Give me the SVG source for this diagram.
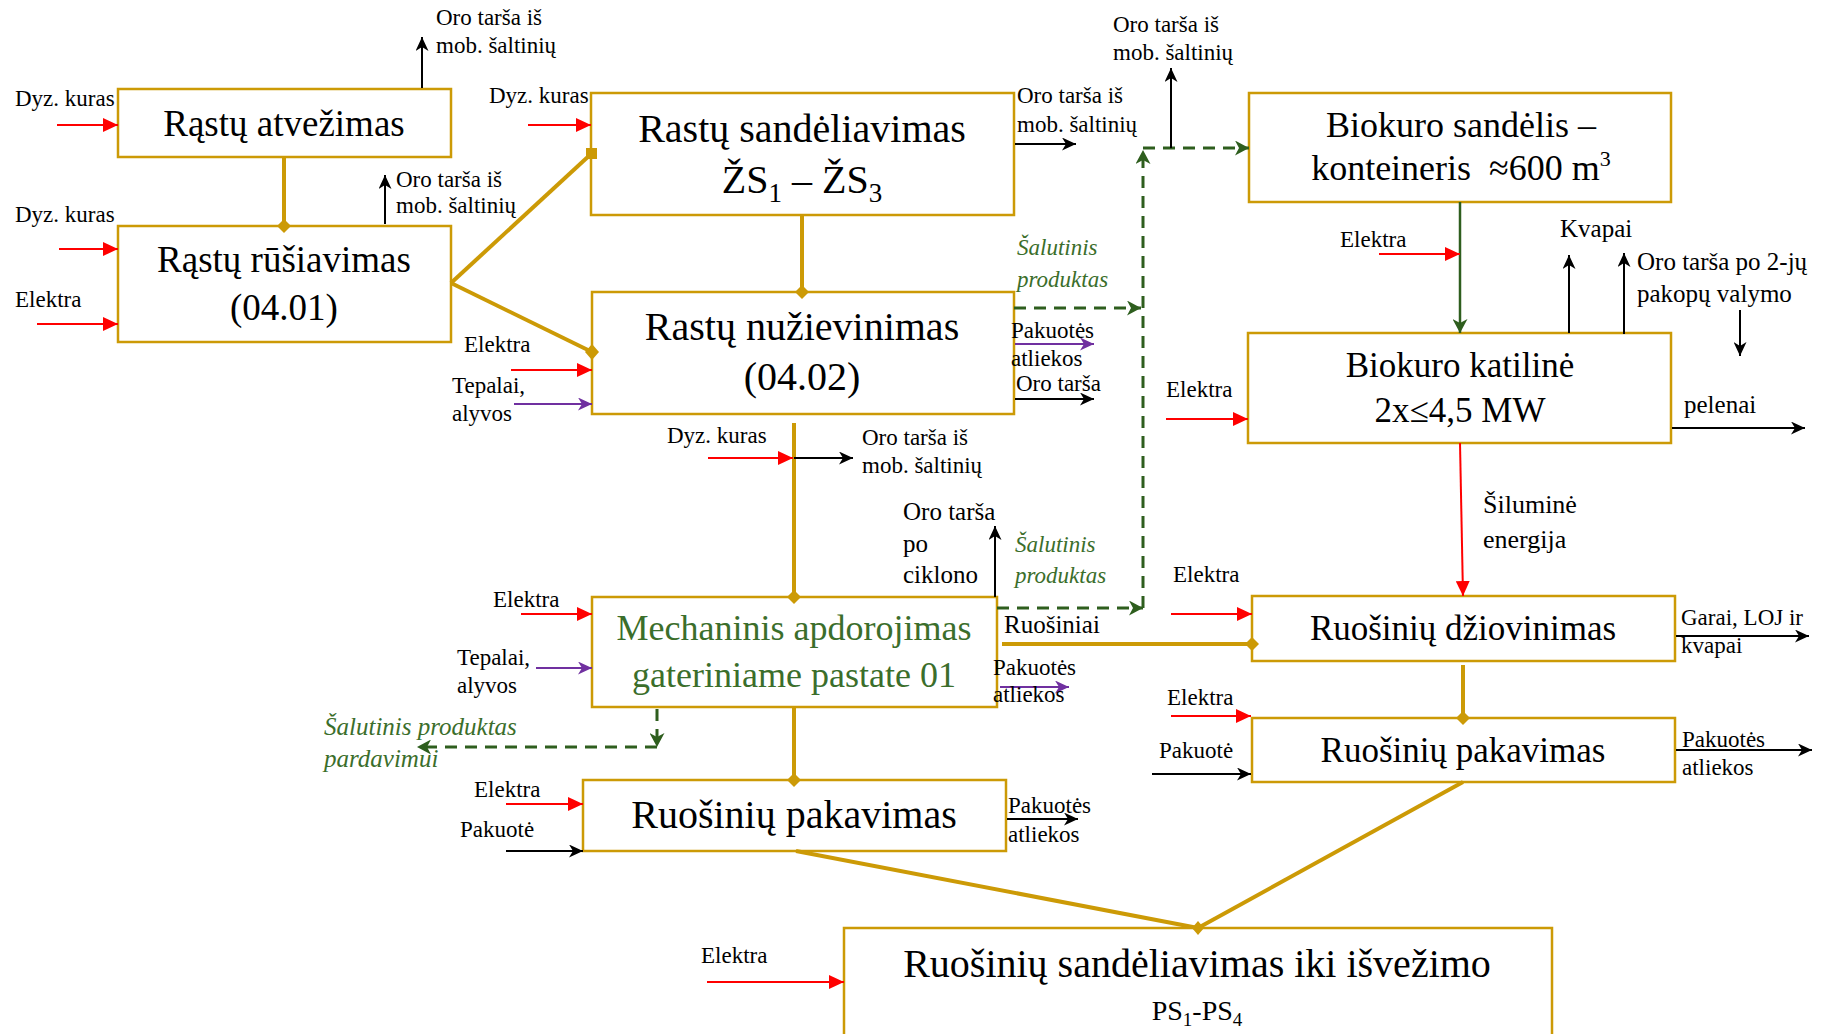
<svg xmlns="http://www.w3.org/2000/svg" width="1835" height="1034" viewBox="0 0 1835 1034">
<style>
.box{fill:#fff;stroke:#CC9A06;stroke-width:2.5}
text{font-family:"Liberation Serif","DejaVu Serif",serif;fill:#000}
.c{text-anchor:middle}
.s{font-size:23px}
.m{font-size:25px}
.g{fill:#3B6E2B}
.gi{fill:#3B6E2B;font-style:italic}
.gold{stroke:#CC9A06;stroke-width:4;fill:none}
.red{stroke:#FF0000;stroke-width:2;fill:none;marker-end:url(#mRed)}
.blk{stroke:#000;stroke-width:2;fill:none;marker-end:url(#mBlk)}
.pur{stroke:#7030A0;stroke-width:2;fill:none;marker-end:url(#mPur)}
.gd{stroke:#2E5E1E;stroke-width:3;fill:none;stroke-dasharray:12 8}
.gda{marker-end:url(#mGrn)}
</style>
<defs>
<marker id="mRed" markerUnits="userSpaceOnUse" markerWidth="16" markerHeight="14" refX="15" refY="7" orient="auto"><path d="M0,0 L15,7 L0,14 z" fill="#FF0000"/></marker>
<marker id="mBlk" markerUnits="userSpaceOnUse" markerWidth="15" markerHeight="13" refX="14" refY="6.5" orient="auto"><path d="M0,0 L14,6.5 L0,13 L4,6.5 z" fill="#000"/></marker>
<marker id="mPur" markerUnits="userSpaceOnUse" markerWidth="15" markerHeight="13" refX="14" refY="6.5" orient="auto"><path d="M0,0 L14,6.5 L0,13 L4,6.5 z" fill="#7030A0"/></marker>
<marker id="mGrn" markerUnits="userSpaceOnUse" markerWidth="15" markerHeight="15" refX="14" refY="7.5" orient="auto"><path d="M0,0 L14,7.5 L0,15 L4,7.5 z" fill="#2E5E1E"/></marker>
<marker id="mDia" markerUnits="userSpaceOnUse" markerWidth="16" markerHeight="16" refX="8" refY="8" orient="auto"><path d="M1,8 L8,1 L15,8 L8,15 z" fill="#CC9A06"/></marker>
</defs>

<g id="n-atvezimas">
<rect class="box" x="118" y="89" width="333" height="68"/>
<text class="c" x="284" y="136" font-size="37">Rąstų atvežimas</text>
</g>
<g id="n-rusiavimas">
<rect class="box" x="118" y="226" width="333" height="116"/>
<text class="c" x="284" y="272" font-size="37">Rąstų rūšiavimas</text>
<text class="c" x="284" y="320" font-size="37">(04.01)</text>
</g>
<g id="n-sandeliavimas">
<rect class="box" x="591" y="93" width="423" height="122"/>
<text class="c" x="802" y="142" font-size="40">Rastų sandėliavimas</text>
<text class="c" x="802" y="193" font-size="40">ŽS<tspan font-size="27" dy="9">1</tspan><tspan dy="-9"> – ŽS</tspan><tspan font-size="27" dy="9">3</tspan></text>
</g>
<g id="n-nuzievinimas">
<rect class="box" x="592" y="292" width="422" height="122"/>
<text class="c" x="802" y="340" font-size="40">Rastų nužievinimas</text>
<text class="c" x="802" y="390" font-size="40">(04.02)</text>
</g>
<g id="n-mechaninis">
<rect class="box" x="592" y="597" width="405" height="110"/>
<text class="c g" x="794" y="640" font-size="36">Mechaninis apdorojimas</text>
<text class="c g" x="794" y="687" font-size="36">gateriniame pastate 01</text>
</g>
<g id="n-pakavimas1">
<rect class="box" x="583" y="780" width="423" height="71"/>
<text class="c" x="794" y="828" font-size="40">Ruošinių pakavimas</text>
</g>
<g id="n-biokuro-sandelis">
<rect class="box" x="1249" y="93" width="422" height="109"/>
<text class="c" x="1461" y="137" font-size="36">Biokuro sandėlis –</text>
<text class="c" x="1461" y="180" font-size="36">konteineris&#160; ≈600 m<tspan font-size="22" dy="-14">3</tspan></text>
</g>
<g id="n-katiline">
<rect class="box" x="1248" y="333" width="423" height="110"/>
<text class="c" x="1460" y="377" font-size="35">Biokuro katilinė</text>
<text class="c" x="1460" y="422" font-size="35">2x≤4,5 MW</text>
</g>
<g id="n-dziovinimas">
<rect class="box" x="1252" y="596" width="423" height="65"/>
<text class="c" x="1463" y="640" font-size="35">Ruošinių džiovinimas</text>
</g>
<g id="n-pakavimas2">
<rect class="box" x="1252" y="718" width="423" height="64"/>
<text class="c" x="1463" y="762" font-size="35">Ruošinių pakavimas</text>
</g>
<g id="n-sandeliavimas-iki">
<rect class="box" x="844" y="928" width="708" height="120"/>
<text class="c" x="1197" y="977" font-size="40">Ruošinių sandėliavimas iki išvežimo</text>
<text class="c" x="1197" y="1020" font-size="28">PS<tspan font-size="19" dy="6">1</tspan><tspan dy="-6">-PS</tspan><tspan font-size="19" dy="6">4</tspan></text>
</g>

<g id="connectors">
<!-- gold process flow -->
<line class="gold" x1="284" y1="157" x2="284" y2="226" marker-end="url(#mDia)"/>
<line class="gold" x1="451" y1="283" x2="591" y2="154"/>
<rect x="586" y="148" width="11" height="11" fill="#CC9A06"/>
<line class="gold" x1="451" y1="283" x2="592" y2="352"/>
<polygon points="592,344 599,352 592,360 585,352" fill="#CC9A06"/>
<line class="gold" x1="802" y1="215" x2="802" y2="292" marker-end="url(#mDia)"/>
<line class="gold" x1="794" y1="423" x2="794" y2="597" marker-end="url(#mDia)"/>
<line class="gold" x1="794" y1="707" x2="794" y2="780" marker-end="url(#mDia)"/>
<line class="gold" x1="1002" y1="644" x2="1252" y2="644" stroke-width="4.5" marker-end="url(#mDia)"/>
<line class="gold" x1="1463" y1="665" x2="1463" y2="718" marker-end="url(#mDia)"/>
<line class="gold" x1="796" y1="851" x2="1198" y2="928" stroke-width="5"/>
<line class="gold" x1="1463" y1="782" x2="1198" y2="928" stroke-width="3.5"/>
<polygon points="1198,921 1204,928 1198,935 1192,928" fill="#CC9A06"/>
<!-- green flows -->
<line x1="1460" y1="202" x2="1460" y2="333" stroke="#2E5E1E" stroke-width="2.5" marker-end="url(#mGrn)"/>
<line class="gd gda" x1="1014" y1="308" x2="1141" y2="308"/>
<line class="gd gda" x1="997" y1="608" x2="1143" y2="608"/>
<line class="gd gda" x1="1143" y1="608" x2="1143" y2="150"/>
<line class="gd gda" x1="1143" y1="148" x2="1249" y2="148"/>
<line class="gd gda" x1="657" y1="709" x2="657" y2="747"/>
<line class="gd gda" x1="657" y1="747" x2="417" y2="747"/>
<!-- inputs / outputs -->
<line class="blk" x1="422" y1="88" x2="422" y2="37"/>
<line class="red" x1="57" y1="125" x2="118" y2="125"/>
<line class="red" x1="59" y1="249" x2="118" y2="249"/>
<line class="red" x1="37" y1="324" x2="118" y2="324"/>
<line class="blk" x1="385" y1="224" x2="385" y2="175"/>
<line class="red" x1="528" y1="125" x2="591" y2="125"/>
<line class="red" x1="511" y1="370" x2="592" y2="370"/>
<line class="pur" x1="514" y1="404" x2="592" y2="404"/>
<line class="blk" x1="1015" y1="144" x2="1076" y2="144"/>
<line class="pur" x1="1015" y1="344" x2="1094" y2="344"/>
<line class="blk" x1="1015" y1="399" x2="1094" y2="399"/>
<line class="red" x1="708" y1="458" x2="793" y2="458"/>
<line class="blk" x1="794" y1="458" x2="853" y2="458"/>
<line class="blk" x1="995" y1="597" x2="995" y2="526"/>
<line class="pur" x1="1000" y1="687" x2="1069" y2="687"/>
<line class="red" x1="521" y1="614" x2="592" y2="614"/>
<line class="pur" x1="536" y1="668" x2="592" y2="668"/>
<line class="red" x1="506" y1="804" x2="583" y2="804"/>
<line class="blk" x1="506" y1="851" x2="583" y2="851"/>
<line class="blk" x1="1007" y1="819" x2="1078" y2="819"/>
<line class="red" x1="707" y1="982" x2="844" y2="982"/>
<line class="blk" x1="1171" y1="148" x2="1171" y2="68"/>
<line class="red" x1="1379" y1="254" x2="1460" y2="254"/>
<line class="blk" x1="1569" y1="333" x2="1569" y2="255"/>
<line class="blk" x1="1624" y1="334" x2="1624" y2="253"/>
<line class="blk" x1="1740" y1="310" x2="1740" y2="356"/>
<line class="red" x1="1166" y1="419" x2="1248" y2="419"/>
<line class="blk" x1="1672" y1="428" x2="1805" y2="428"/>
<line class="red" x1="1460" y1="443" x2="1463" y2="596"/>
<line class="red" x1="1171" y1="614" x2="1252" y2="614"/>
<line class="blk" x1="1676" y1="636" x2="1809" y2="636"/>
<line class="red" x1="1171" y1="716" x2="1251" y2="716"/>
<line class="blk" x1="1152" y1="774" x2="1251" y2="774"/>
<line class="blk" x1="1676" y1="750" x2="1812" y2="750"/>
</g>

<g id="labels">
<text class="s" x="436" y="25">Oro tarša iš</text>
<text class="s" x="436" y="53">mob. šaltinių</text>
<text class="s" x="15" y="106">Dyz. kuras</text>
<text class="s" x="15" y="222">Dyz. kuras</text>
<text class="s" x="15" y="307">Elektra</text>
<text class="s" x="396" y="187">Oro tarša iš</text>
<text class="s" x="396" y="213">mob. šaltinių</text>
<text class="s" x="489" y="103">Dyz. kuras</text>
<text class="s" x="464" y="352">Elektra</text>
<text class="s" x="452" y="393">Tepalai,</text>
<text class="s" x="452" y="421">alyvos</text>
<text class="s" x="1017" y="103">Oro tarša iš</text>
<text class="s" x="1017" y="132">mob. šaltinių</text>
<text class="s gi" x="1017" y="255">Šalutinis</text>
<text class="s gi" x="1017" y="287">produktas</text>
<text class="s" x="1011" y="338">Pakuotės</text>
<text class="s" x="1011" y="366">atliekos</text>
<text class="s" x="1016" y="391">Oro tarša</text>
<text class="s" x="667" y="443">Dyz. kuras</text>
<text class="s" x="862" y="445">Oro tarša iš</text>
<text class="s" x="862" y="473">mob. šaltinių</text>
<text class="m" x="903" y="520">Oro tarša</text>
<text class="m" x="903" y="552">po</text>
<text class="m" x="903" y="583">ciklono</text>
<text class="s gi" x="1015" y="552">Šalutinis</text>
<text class="s gi" x="1015" y="583">produktas</text>
<text class="m" x="1004" y="633">Ruošiniai</text>
<text class="s" x="993" y="675">Pakuotės</text>
<text class="s" x="993" y="702">atliekos</text>
<text class="s" x="493" y="607">Elektra</text>
<text class="s" x="457" y="665">Tepalai,</text>
<text class="s" x="457" y="693">alyvos</text>
<text class="m gi" x="324" y="735">Šalutinis produktas</text>
<text class="m gi" x="324" y="767">pardavimui</text>
<text class="s" x="474" y="797">Elektra</text>
<text class="s" x="460" y="837">Pakuotė</text>
<text class="s" x="1008" y="813">Pakuotės</text>
<text class="s" x="1008" y="842">atliekos</text>
<text class="s" x="701" y="963">Elektra</text>
<text class="s" x="1113" y="32">Oro tarša iš</text>
<text class="s" x="1113" y="60">mob. šaltinių</text>
<text class="s" x="1340" y="247">Elektra</text>
<text class="m" x="1560" y="237">Kvapai</text>
<text class="m" x="1637" y="270">Oro tarša po 2-jų</text>
<text class="m" x="1637" y="302">pakopų valymo</text>
<text class="s" x="1166" y="397">Elektra</text>
<text class="m" x="1684" y="413">pelenai</text>
<text font-size="26" x="1483" y="513">Šiluminė</text>
<text font-size="26" x="1483" y="548">energija</text>
<text class="s" x="1173" y="582">Elektra</text>
<text class="s" x="1681" y="625">Garai, LOJ ir</text>
<text class="s" x="1681" y="653">kvapai</text>
<text class="s" x="1167" y="705">Elektra</text>
<text class="s" x="1159" y="758">Pakuotė</text>
<text class="s" x="1682" y="747">Pakuotės</text>
<text class="s" x="1682" y="775">atliekos</text>
</g>
</svg>
